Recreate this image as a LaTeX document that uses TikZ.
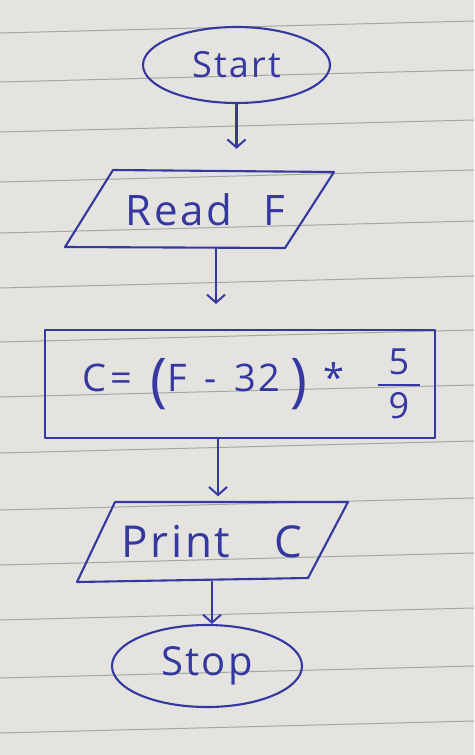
\documentclass[tikz,border=0pt]{standalone}
\usepackage{amsmath}
\usepackage{graphicx}
\usepackage{fontspec}
\setmainfont{Open Sans}[LetterSpace=6]
\usetikzlibrary{arrows.meta,shapes.geometric}
\definecolor{ink}{RGB}{52,56,160}
\definecolor{paper}{RGB}{228,227,223}
\definecolor{ruleline}{RGB}{165,168,162}
\tikzset{
  ink/.style={draw=ink,line width=2.1pt,line join=round,line cap=round},
  term/.style={ellipse,ink,text=ink,inner sep=0pt},
  plain/.style={rectangle,inner sep=0pt,text=ink},
  procbox/.style={rectangle,ink,text=ink,inner sep=0pt},
  arr/.style={ink,-{Straight Barb[length=8pt,width=18pt,line width=2pt]}},
  ruled/.style={draw=ruleline,line width=1pt}
}
\newcommand{\tallparen}[1]{\raisebox{-9pt}{\scalebox{1.5}[1.55]{#1}}}
\begin{document}
\begin{tikzpicture}[x=1pt,y=-1pt]
\useasboundingbox (0,0) rectangle (474,755);
\fill[paper] (0,0) rectangle (474,755);
\foreach \yy in {33,82,132,182,233,288,342,397,453,510,565,620,678,733}
  \draw[ruled] (0,\yy) -- (474,\yy-12);

% nodes
\node[term,minimum width=187pt,minimum height=76pt,font=\fontsize{36}{40}\selectfont] (start) at (236.5,65) {Start};
\node[plain,minimum width=180pt,minimum height=77pt,font=\fontsize{42}{46}\selectfont] (read) at (199.5,209.5) {\raisebox{-4pt}{\hspace{12pt}Read\hspace{32pt}F}};
\draw[ink] (113,170) -- (334,172) -- (285,248) -- (65,247) -- cycle;
\node[procbox,minimum width=390pt,minimum height=108pt,font=\fontsize{38}{42}\selectfont] (calc) at (240,384)
  {\hspace{24pt}C\hspace{4pt}=\hspace{18pt}\tallparen{(}F\hspace{18pt}-\hspace{18pt}32\hspace{10pt}\tallparen{)}\hspace{16pt}*\hspace{32pt}$\genfrac{}{}{2pt}{0}{\mbox{\fontsize{36}{40}\selectfont\hspace{11pt}5\hspace{11pt}}}{\mbox{\fontsize{36}{40}\selectfont 9}}$};
\node[plain,minimum width=200pt,minimum height=80pt,font=\fontsize{44}{48}\selectfont] (print) at (212,541.5) {\raisebox{-4pt}{Print\hspace{44pt}C}};
\draw[ink] (115,502) -- (348,502) -- (308,578) -- (77,582) -- cycle;
\node[term,minimum width=190pt,minimum height=82pt,font=\fontsize{40}{44}\selectfont] (stop) at (207,666) {Stop};

% connectors
\draw[arr,shorten >=22pt] (start.south) -- (start.south |- read.north);
\draw[arr,shorten >=25pt] ([xshift=16.5pt]read.south) -- ([xshift=16.5pt]read.south |- calc.north);
\draw[arr,shorten >=5pt] ([xshift=-22pt]calc.south) -- ([xshift=-22pt]calc.south |- print.north);
\draw[arr] (print.south) -- (print.south |- stop.north);
\end{tikzpicture}
\end{document}
